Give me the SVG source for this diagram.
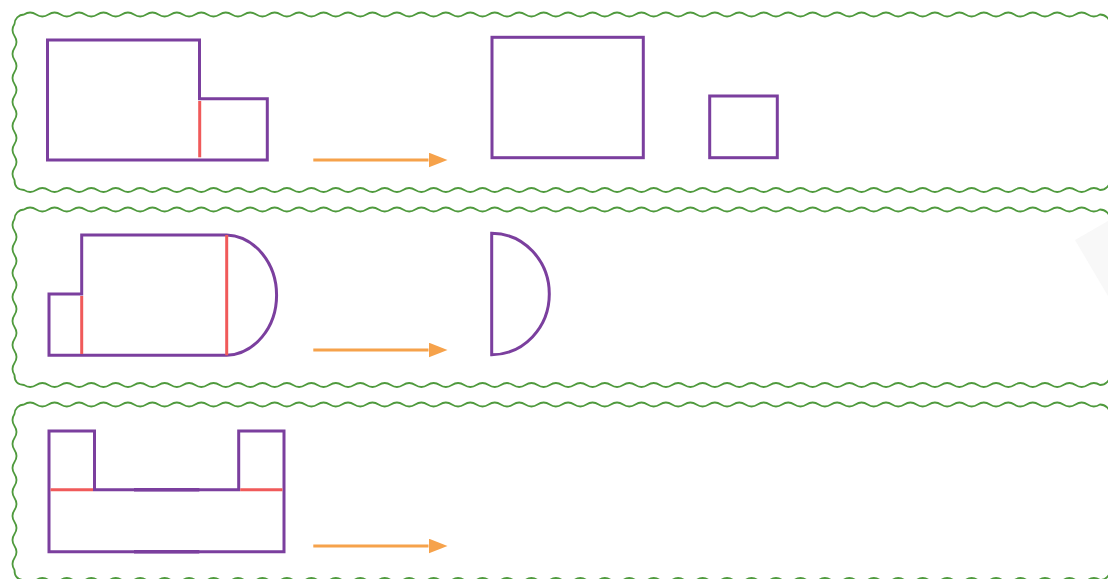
<svg xmlns="http://www.w3.org/2000/svg" width="1108" height="579" viewBox="0 0 1108 579">
<style>
.panel{fill:none;stroke:#4f9a3d;stroke-width:1.8;stroke-linejoin:round}
.shape{fill:none;stroke:#7b3f9e;stroke-width:3;stroke-linejoin:miter}
.thick{fill:none;stroke:#7b3f9e;stroke-width:3.6}
.cut{fill:none;stroke:#f05a5a;stroke-width:3}
.arrow{fill:none;stroke:#f6a24b;stroke-width:3;marker-end:url(#ah)}
</style>
<defs>
<marker id="ah" markerUnits="userSpaceOnUse" markerWidth="20" markerHeight="16" refX="0" refY="7.5" orient="auto">
<path d="M0,0 L19,7.5 L0,15 Z" fill="#f6a24b"/>
</marker>
<path id="panelShape" class="panel" d="M14.5 180
q-4 -6 0 -12 t0 -12 t0 -12 t0 -12 t0 -12 t0 -12 t0 -12 t0 -12 t0 -12 t0 -12 t0 -12 t0 -12 t0 -12
A9.5 9.5 0 0 1 24 14.5
q6.114 -4 12.227 0
t12.227 0 t12.227 0 t12.227 0 t12.227 0 t12.227 0 t12.227 0 t12.227 0 t12.227 0
t12.227 0 t12.227 0 t12.227 0 t12.227 0 t12.227 0 t12.227 0 t12.227 0 t12.227 0
t12.227 0 t12.227 0 t12.227 0 t12.227 0 t12.227 0 t12.227 0 t12.227 0 t12.227 0
t12.227 0 t12.227 0 t12.227 0 t12.227 0 t12.227 0 t12.227 0 t12.227 0 t12.227 0
t12.227 0 t12.227 0 t12.227 0 t12.227 0 t12.227 0 t12.227 0 t12.227 0 t12.227 0
t12.227 0 t12.227 0 t12.227 0 t12.227 0 t12.227 0 t12.227 0 t12.227 0 t12.227 0
t12.227 0 t12.227 0 t12.227 0 t12.227 0 t12.227 0 t12.227 0 t12.227 0 t12.227 0
t12.227 0 t12.227 0 t12.227 0 t12.227 0 t12.227 0 t12.227 0 t12.227 0 t12.227 0
t12.227 0 t12.227 0 t12.227 0 t12.227 0 t12.227 0 t12.227 0 t12.227 0 t12.227 0
t12.227 0 t12.227 0 t12.227 0 t12.227 0 t12.227 0 t12.227 0 t12.227 0 t12.227 0
t12.227 0 t12.227 0 t12.227 0 t12.227 0 t12.227 0 t12.227 0 t12.227 0
A10 10 0 0 1 1110 24.5 L1110 180 A10 10 0 0 1 1100 190
q-6.114 -4 -12.227 0
t-12.227 0 t-12.227 0 t-12.227 0 t-12.227 0 t-12.227 0 t-12.227 0 t-12.227 0 t-12.227 0
t-12.227 0 t-12.227 0 t-12.227 0 t-12.227 0 t-12.227 0 t-12.227 0 t-12.227 0 t-12.227 0
t-12.227 0 t-12.227 0 t-12.227 0 t-12.227 0 t-12.227 0 t-12.227 0 t-12.227 0 t-12.227 0
t-12.227 0 t-12.227 0 t-12.227 0 t-12.227 0 t-12.227 0 t-12.227 0 t-12.227 0 t-12.227 0
t-12.227 0 t-12.227 0 t-12.227 0 t-12.227 0 t-12.227 0 t-12.227 0 t-12.227 0 t-12.227 0
t-12.227 0 t-12.227 0 t-12.227 0 t-12.227 0 t-12.227 0 t-12.227 0 t-12.227 0 t-12.227 0
t-12.227 0 t-12.227 0 t-12.227 0 t-12.227 0 t-12.227 0 t-12.227 0 t-12.227 0 t-12.227 0
t-12.227 0 t-12.227 0 t-12.227 0 t-12.227 0 t-12.227 0 t-12.227 0 t-12.227 0 t-12.227 0
t-12.227 0 t-12.227 0 t-12.227 0 t-12.227 0 t-12.227 0 t-12.227 0 t-12.227 0 t-12.227 0
t-12.227 0 t-12.227 0 t-12.227 0 t-12.227 0 t-12.227 0 t-12.227 0 t-12.227 0 t-12.227 0
t-12.227 0 t-12.227 0 t-12.227 0 t-12.227 0 t-12.227 0 t-12.227 0 t-12.227 0
Q14.5 190 14.5 180 Z"/>
</defs>
<rect width="1108" height="579" fill="#ffffff"/>

<g id="panel-1">
<use href="#panelShape"/>
</g>
<g id="panel-2">
<use href="#panelShape" transform="translate(0,195)"/>
<polygon points="1075,240 1108,221 1108,296" fill="#f8f8f8"/>
</g>
<g id="panel-3">
<use href="#panelShape" transform="translate(0,390)"/>
</g>

<g id="shape-1-compound">
<path class="shape" d="M47.5 40 H199.5 V98.7 H267.3 V160 H47.5 Z"/>
<line class="cut" x1="199.7" y1="101" x2="199.7" y2="157.3"/>
</g>
<g id="shape-1-rect">
<rect class="shape" x="492" y="37.3" width="151.3" height="120.4"/>
</g>
<g id="shape-1-square">
<rect class="shape" x="709.7" y="96" width="67.6" height="61.7"/>
</g>

<g id="shape-2-compound">
<path class="shape" d="M49 294 H81.7 V235 H226.7 A52 60.2 0 0 1 226.7 355.3 H49 Z"/>
<line class="cut" x1="81.7" y1="296" x2="81.7" y2="354"/>
<line class="cut" x1="226.7" y1="235" x2="226.7" y2="355.3"/>
</g>
<g id="shape-2-half">
<path class="shape" d="M491.7 233.3 A57.6 60.7 0 0 1 491.7 354.7 Z"/>
</g>

<g id="shape-3-compound">
<path class="shape" d="M49 431 H94.5 V489.7 H238.7 V431 H284 V551.7 H49 Z"/>
<line class="cut" x1="50.5" y1="489.7" x2="93" y2="489.7"/>
<line class="cut" x1="240.2" y1="489.7" x2="282.5" y2="489.7"/>
<line class="thick" x1="134" y1="489.7" x2="199.3" y2="489.7"/>
<line class="thick" x1="134" y1="551.7" x2="199.3" y2="551.7"/>
</g>

<g id="connectors">
<line class="arrow" x1="313.3" y1="160" x2="428.5" y2="160"/>
<line class="arrow" x1="313.3" y1="350" x2="428.5" y2="350"/>
<line class="arrow" x1="313.3" y1="546" x2="428.5" y2="546"/>
</g>
</svg>
